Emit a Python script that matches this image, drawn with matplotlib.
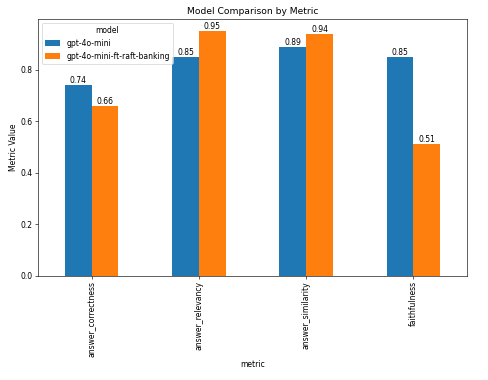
import matplotlib
matplotlib.use("Agg")
import matplotlib.pyplot as plt
import pandas as pd

metrics = ["answer_correctness", "answer_relevancy", "answer_similarity", "faithfulness"]
models = ["gpt-4o-mini", "gpt-4o-mini-ft-raft-banking"]
gpt_4o_mini = [0.74, 0.85, 0.89, 0.85]
gpt_4o_mini_ft = [0.66, 0.95, 0.94, 0.51]

df = pd.DataFrame({models[0]: gpt_4o_mini, models[1]: gpt_4o_mini_ft}, index=metrics)
df.index.name = "metric"
df.columns.name = "model"

DPI = 55.0
fig, ax = plt.subplots(figsize=(488 / DPI, 380 / DPI), dpi=DPI)
df.plot(kind="bar", ax=ax)
ax.set_title("Model Comparison by Metric")
ax.set_ylabel("Metric Value")
ax.set_xlabel("metric")
for c in ax.containers:
    ax.bar_label(c, fmt="%.2f")
ax.legend(title="model", loc="upper left")
fig.subplots_adjust(left=0.078, right=0.957, top=0.95, bottom=0.2745)
fig.savefig("out.png", dpi=DPI)
